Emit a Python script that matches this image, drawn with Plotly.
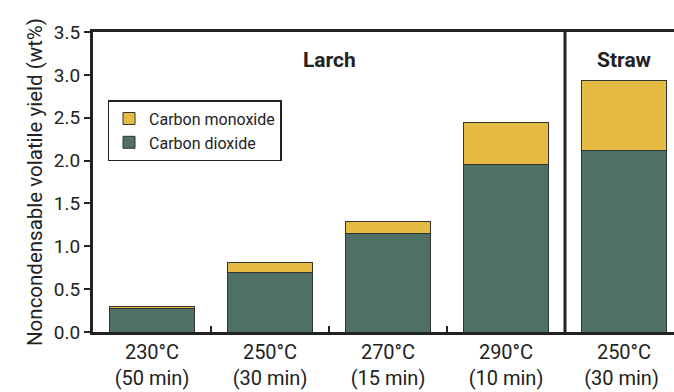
import plotly.graph_objects as go

categories = ["230°C<br>(50 min)", "250°C<br>(30 min)", "270°C<br>(15 min)", "290°C<br>(10 min)", "250°C<br>(30 min) "]
co2 = [0.27, 0.70, 1.15, 1.96, 2.12]
co = [0.03, 0.11, 0.14, 0.49, 0.81]

FONT = "Roboto, sans-serif"
DARK = "#222222"
GREEN = "#4F7064"
YELLOW = "#E6BB44"

fig = go.Figure()
fig.add_trace(go.Bar(x=categories, y=co2, name="Carbon dioxide", marker=dict(color=GREEN, line=dict(color="#333333", width=1)), width=0.72))
fig.add_trace(go.Bar(x=categories, y=co, name="Carbon monoxide", marker=dict(color=YELLOW, line=dict(color="#333333", width=1)), width=0.72))

fig.update_layout(
    width=674, height=392,
    margin=dict(l=93, r=0, t=32, b=60),
    barmode="stack",
    plot_bgcolor="white", paper_bgcolor="white",
    font=dict(family=FONT, size=17, color=DARK),
    legend=dict(x=0.025, y=0.773, xanchor="left", yanchor="top", traceorder="reversed",
                bordercolor=DARK, borderwidth=1.5, font=dict(size=16, family=FONT),
                itemwidth=30, tracegroupgap=0, bgcolor="white"),
    showlegend=True,
)
fig.update_xaxes(type="category", range=[-0.5, -0.5 + 581/118], showline=True, linewidth=3, linecolor=DARK,
                 mirror=True, tickson="boundaries", ticks="inside", ticklen=6, tickwidth=2, tickcolor=DARK,
                 tickfont=dict(size=20), showgrid=False)
fig.update_yaxes(range=[0, 3.5], dtick=0.5, tickformat=".1f", showline=True, linewidth=3, linecolor=DARK,
                 ticks="outside", ticklen=6, tickwidth=2, tickcolor=DARK, tickfont=dict(size=19),
                 showgrid=False, zeroline=False,
                 title=dict(text="Noncondensable volatile yield (wt%)", font=dict(size=20.5), standoff=6))

fig.add_shape(type="line", xref="x", yref="paper", x0=3.5, x1=3.5, y0=0, y1=1, line=dict(color=DARK, width=3))
fig.add_annotation(x=1.5, y=0.907, xref="x", yref="paper", yanchor="middle", text="<b>Larch</b>", showarrow=False, font=dict(size=21))
fig.add_annotation(x=4, y=0.907, xref="x", yref="paper", yanchor="middle", text="<b>Straw</b>", showarrow=False, font=dict(size=21))

fig.write_html("out.html")
